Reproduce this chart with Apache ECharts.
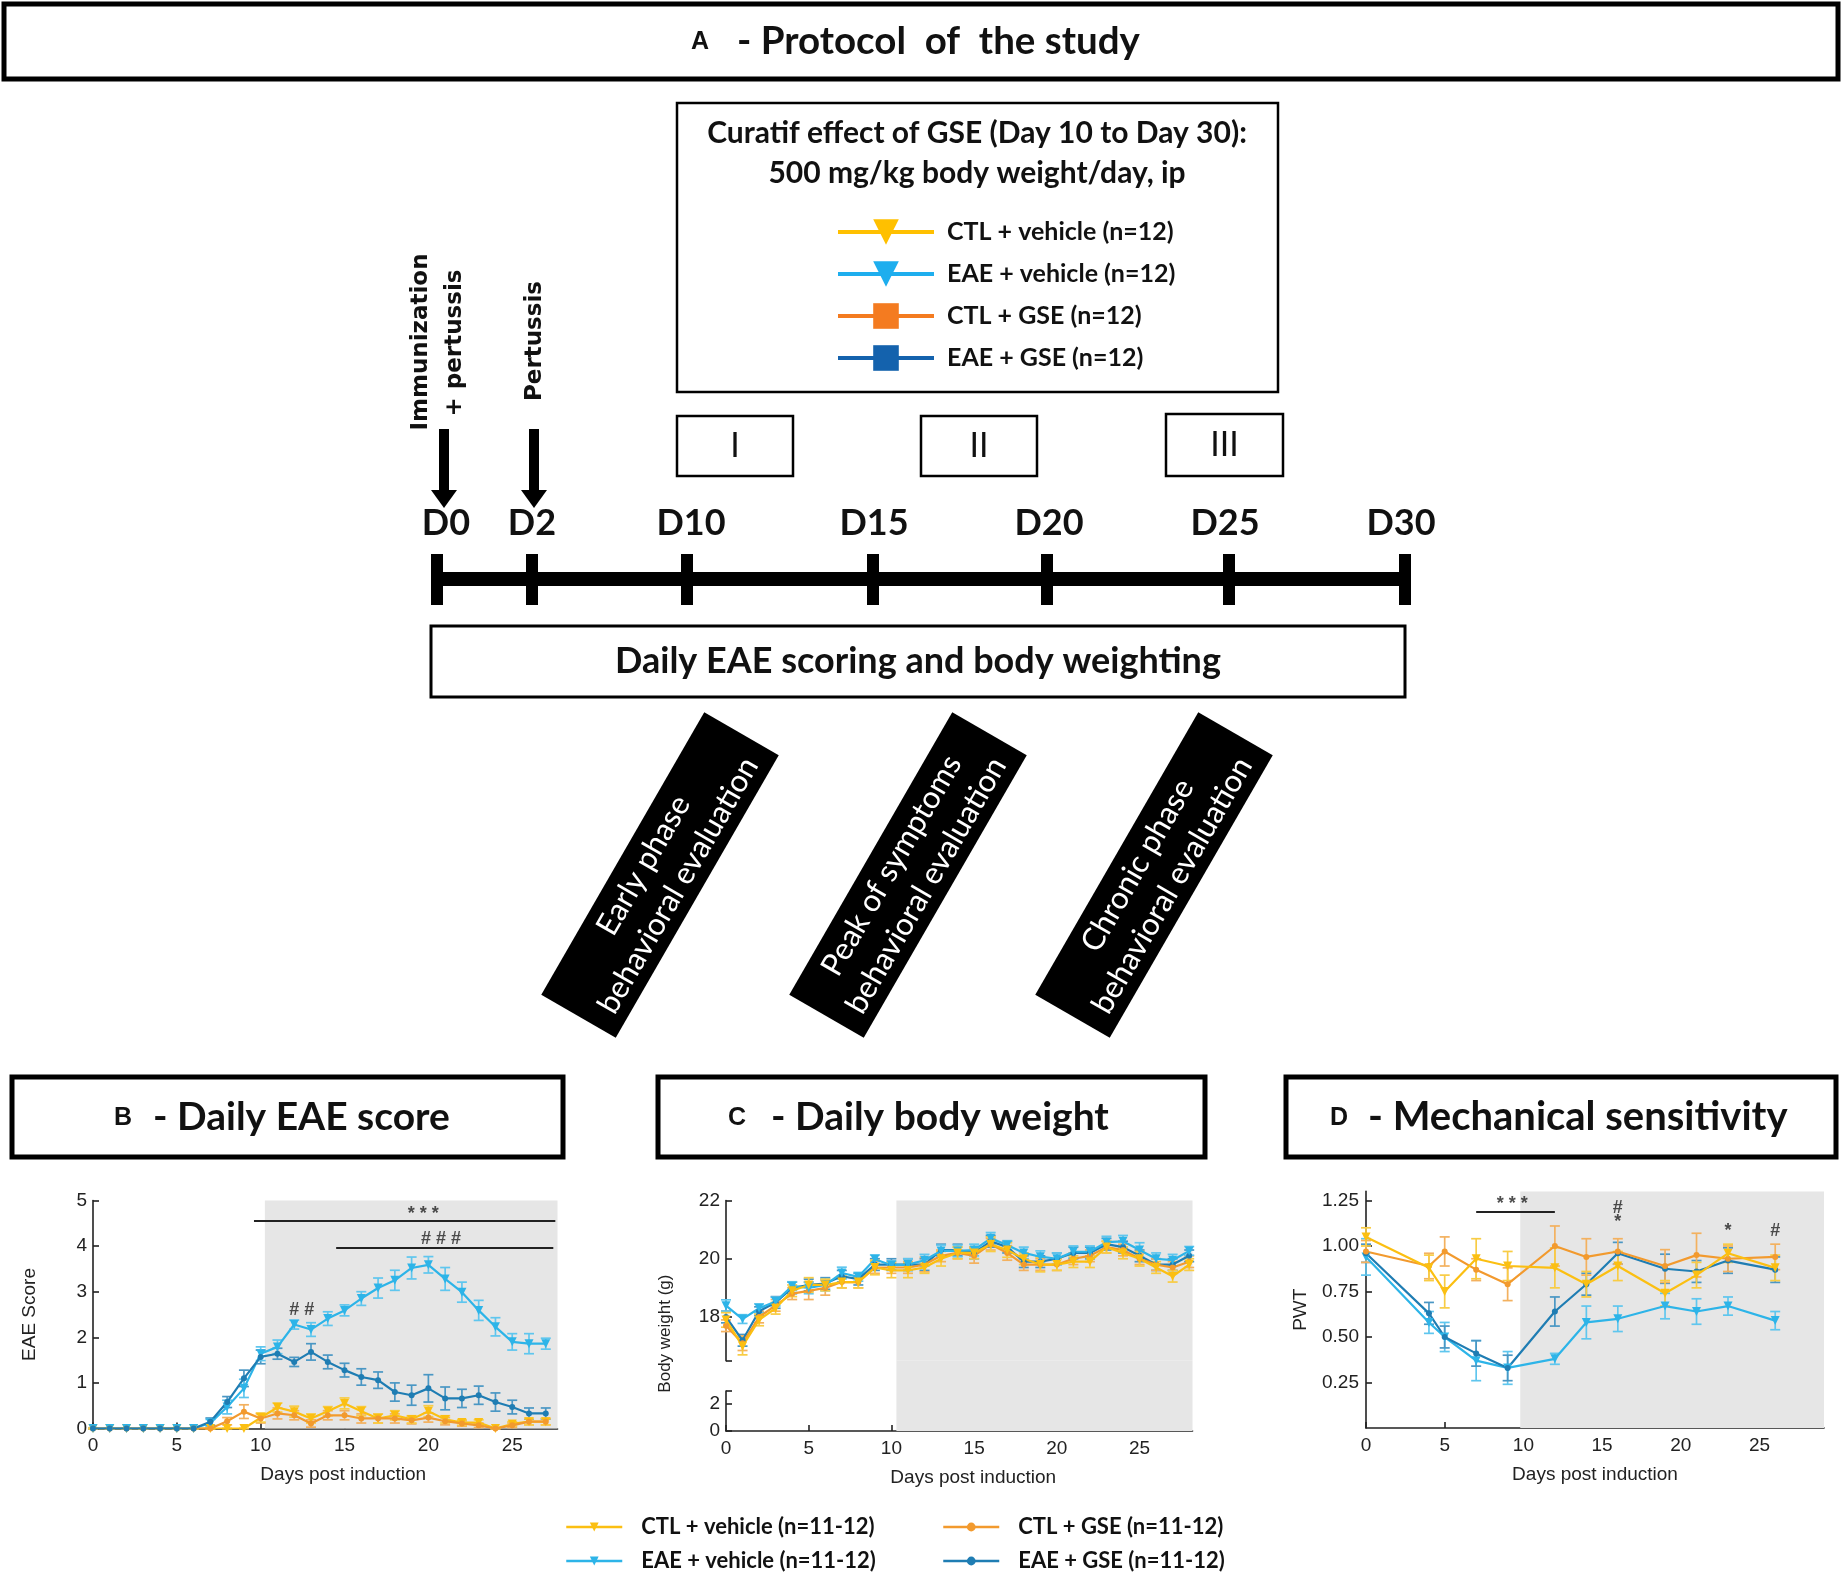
<!DOCTYPE html>
<html>
<head>
<meta charset="utf-8">
<title>GSE in EAE mice - protocol and outcomes</title>
<script src="https://cdn.jsdelivr.net/npm/echarts@6.0.0/dist/echarts.min.js"></script>
<style>
html, body { margin: 0; padding: 0; background: #fff; }
#main { width: 1842px; height: 1582px; }
</style>
</head>
<body>
<div id="main"></div>
<script>
// group names (bottom legend / charts) and protocol legend names
var groupNames = ['CTL + vehicle (n=11-12)', 'EAE + vehicle (n=11-12)', 'CTL + GSE (n=11-12)', 'EAE + GSE (n=11-12)'];
var protocolNames = ['CTL + vehicle (n=12)', 'EAE + vehicle (n=12)', 'CTL + GSE (n=12)', 'EAE + GSE (n=12)'];

// B - daily EAE score
var scoreDays = [0,1,2,3,4,5,6,7,8,9,10,11,12,13,14,15,16,17,18,19,20,21,22,23,24,25,26,27];
var scoreCtlVeh = [0,0,0,0,0,0,0,0,0,0,0.24,0.46,0.37,0.22,0.38,0.55,0.38,0.22,0.29,0.2,0.38,0.2,0.13,0.13,0,0.1,0.15,0.15];
var scoreCtlVehErr = [0,0,0,0,0,0,0,0,0,0,0.1,0.1,0.12,0.1,0.1,0.12,0.1,0.1,0.1,0.08,0.12,0.08,0.06,0.06,0,0.05,0.07,0.07];
var scoreEaeVeh = [0,0,0,0,0,0,0,0.12,0.47,0.88,1.64,1.79,2.28,2.17,2.41,2.59,2.85,3.08,3.25,3.52,3.59,3.28,2.99,2.59,2.23,1.9,1.86,1.86];
var scoreEaeVehErr = [0,0,0,0,0,0,0,0.08,0.15,0.2,0.15,0.15,0.1,0.15,0.15,0.12,0.15,0.22,0.22,0.24,0.18,0.25,0.22,0.22,0.2,0.18,0.22,0.12];
var scoreCtlGse = [0,0,0,0,0,0,0,0,0.16,0.37,0.22,0.33,0.29,0.11,0.29,0.29,0.22,0.22,0.22,0.18,0.24,0.16,0.11,0.07,0,0.07,0.15,0.15];
var scoreCtlGseErr = [0,0,0,0,0,0,0,0,0.08,0.15,0.1,0.12,0.1,0.08,0.1,0.1,0.1,0.1,0.1,0.08,0.1,0.08,0.06,0.05,0,0.05,0.07,0.07];
var scoreEaeGse = [0,0,0,0,0,0,0,0.15,0.58,1.1,1.57,1.64,1.46,1.68,1.46,1.28,1.13,1.06,0.8,0.73,0.88,0.66,0.66,0.73,0.58,0.47,0.33,0.33];
var scoreEaeGseErr = [0,0,0,0,0,0,0,0.08,0.12,0.18,0.15,0.12,0.1,0.18,0.15,0.15,0.18,0.18,0.2,0.22,0.3,0.25,0.2,0.2,0.2,0.15,0.12,0.12];
var scoreMarks = [[19.7, 4.7, '* * *'], [20.75, 4.15, '# # #'], [12.45, 2.6, '# #']];
var scoreSigLines = [[9.6, 27.57, 4.55], [14.5, 27.45, 3.96]];

// C - daily body weight (g)
var weightDays = [0,1,2,3,4,5,6,7,8,9,10,11,12,13,14,15,16,17,18,19,20,21,22,23,24,25,26,27,28];
var weightCtlVeh = [17.9,17.0,17.9,18.3,18.9,19.1,19.1,19.2,19.2,19.7,19.6,19.6,19.7,20.0,20.2,20.2,20.5,20.3,20.0,19.8,19.8,19.9,19.9,20.4,20.2,20.0,19.7,19.4,19.8];
var weightCtlVehErr = [0.25,0.3,0.2,0.2,0.2,0.25,0.2,0.2,0.2,0.25,0.25,0.25,0.2,0.25,0.2,0.2,0.25,0.25,0.2,0.25,0.2,0.2,0.2,0.2,0.2,0.25,0.2,0.2,0.2];
var weightEaeVeh = [18.39,17.93,18.3,18.53,19.06,19.0,19.1,19.51,19.38,19.98,19.78,19.8,19.95,20.27,20.27,20.3,20.7,20.47,20.2,20.07,20.0,20.24,20.24,20.57,20.6,20.3,20.0,19.95,20.27];
var weightEaeVehErr = [0.2,0.15,0.15,0.15,0.15,0.2,0.2,0.2,0.15,0.15,0.15,0.2,0.2,0.2,0.2,0.2,0.2,0.15,0.2,0.2,0.2,0.2,0.2,0.2,0.2,0.25,0.2,0.2,0.15];
var weightCtlGse = [17.7,17.1,18.0,18.4,18.8,18.9,19.0,19.2,19.2,19.7,19.7,19.7,19.8,20.1,20.2,20.1,20.5,20.2,19.8,19.8,19.8,20.0,20.1,20.4,20.3,20.0,19.8,19.7,19.9];
var weightCtlGseErr = [0.2,0.25,0.2,0.2,0.2,0.3,0.25,0.2,0.2,0.2,0.2,0.2,0.25,0.2,0.2,0.25,0.2,0.25,0.2,0.2,0.2,0.2,0.2,0.2,0.2,0.2,0.2,0.2,0.2];
var weightEaeGse = [18.0,17.2,18.2,18.5,19.0,19.1,19.15,19.4,19.3,19.8,19.8,19.8,19.8,20.3,20.3,20.2,20.6,20.4,19.9,19.9,20.0,20.2,20.2,20.5,20.4,20.1,19.8,19.8,20.1];
var weightEaeGseErr = [0.2,0.2,0.15,0.2,0.2,0.2,0.2,0.2,0.2,0.2,0.2,0.2,0.2,0.2,0.2,0.2,0.2,0.2,0.2,0.2,0.2,0.2,0.2,0.2,0.2,0.2,0.2,0.2,0.2];

// D - mechanical sensitivity (PWT)
var pwtDays = [0,4,5,7,9,12,14,16,19,21,23,26];
var pwtCtlVeh = [1.05,0.88,0.75,0.93,0.89,0.88,0.79,0.89,0.74,0.84,0.96,0.88];
var pwtCtlVehErr = [0.05,0.07,0.09,0.11,0.08,0.11,0.07,0.08,0.07,0.07,0.05,0.07];
var pwtEaeVeh = [0.94,0.58,0.5,0.37,0.33,0.38,0.58,0.6,0.67,0.64,0.67,0.59];
var pwtEaeVehErr = [0.1,0.06,0.08,0.11,0.09,0.03,0.09,0.07,0.07,0.07,0.05,0.05];
var pwtCtlGse = [0.97,0.89,0.97,0.87,0.79,1.0,0.94,0.97,0.89,0.95,0.93,0.94];
var pwtCtlGseErr = [0.06,0.07,0.08,0.06,0.09,0.11,0.1,0.07,0.09,0.12,0.07,0.07];
var pwtEaeGse = [0.96,0.63,0.5,0.41,0.33,0.64,0.79,0.96,0.875,0.86,0.92,0.87];
var pwtEaeGseErr = [0.05,0.06,0.06,0.07,0.07,0.08,0.06,0.06,0.08,0.06,0.07,0.07];
var pwtMarks = [[9.3, 1.23, '* * *'], [16, 1.21, '#'], [16, 1.13, '*'], [23, 1.08, '*'], [26, 1.08, '#']];
var pwtSigLines = [[7, 12, 1.19]];

// first day of the GSE treatment period (grey area)
var treatStart = [10.25, 10.3, 9.8];

// protocol timeline
var timelineLabels = ['D0', 'D2', 'D10', 'D15', 'D20', 'D25', 'D30'];
var phaseLabels = ['I', 'II', 'III'];
var phaseTexts = ['Early phase\nbehavioral evaluation', 'Peak of symptoms\nbehavioral evaluation', 'Chronic phase\nbehavioral evaluation'];

// ---- layout / style ----
var colors = ['#fbbf12', '#2db4e8', '#f29a2e', '#1f7db3'];
var errColors = ['#f8cc45', '#5fc6ee', '#f3b15f', '#4a97c4'];
var protoColors = ['#ffc000', '#1eaeee', '#f47b20', '#1462ad'];
var markSymbols = ['triangle', 'triangle', 'circle', 'circle'];
var markRotate = [180, 180, 0, 0];
var tickX = [437, 532, 687, 873, 1047, 1229, 1405];
var labelX = [446, 532, 691, 874, 1049, 1225, 1401];
var phaseBoxes = [[677, 416, 116, 60], [921, 416, 116, 60], [1166, 414, 117, 62]];
var phaseCenters = [[660, 875], [908, 875], [1154, 875]];
var panelBoxes = [[12, 1077, 551, 80, 'B', 123, 153, '- Daily EAE score', 39],
                  [658, 1077, 547, 80, 'C', 737, 771, '- Daily body weight', 39],
                  [1286, 1077, 550, 80, 'D', 1339, 1368, '- Mechanical sensitivity', 40]];

var calibri = 'Lato, "Open Sans", sans-serif';
var arial = '"Liberation Sans", Arial, sans-serif';
var ink = '#111';

function pairs(xs, ys) {
    return xs.map(function (x, i) { return [x, ys[i]]; });
}
function ranges(xs, ys, es) {
    return xs.map(function (x, i) { return [x, ys[i] - es[i], ys[i] + es[i]]; });
}

function lineSeries(k, xs, ys, axis) {
    return {
        name: groupNames[k], type: 'line', xAxisIndex: axis, yAxisIndex: axis,
        data: pairs(xs, ys),
        symbol: markSymbols[k], symbolRotate: markRotate[k],
        symbolSize: markSymbols[k] === 'triangle' ? 9 : 6,
        lineStyle: {color: colors[k], width: 2.2},
        itemStyle: {color: colors[k]},
        z: 4, silent: true
    };
}

function errSeries(k, xs, ys, es, axis) {
    var col = errColors[k];
    return {
        type: 'custom', xAxisIndex: axis, yAxisIndex: axis,
        data: ranges(xs, ys, es),
        encode: {x: 0, y: [1, 2]},
        z: 3, silent: true,
        renderItem: function (params, api) {
            var x = api.value(0);
            var lo = api.coord([x, api.value(1)]);
            var hi = api.coord([x, api.value(2)]);
            var w = 5;
            var st = {stroke: col, lineWidth: 1.7};
            return {
                type: 'group', children: [
                    {type: 'line', shape: {x1: lo[0], y1: lo[1], x2: hi[0], y2: hi[1]}, style: st},
                    {type: 'line', shape: {x1: lo[0] - w, y1: lo[1], x2: lo[0] + w, y2: lo[1]}, style: st},
                    {type: 'line', shape: {x1: hi[0] - w, y1: hi[1], x2: hi[0] + w, y2: hi[1]}, style: st}
                ]
            };
        }
    };
}

function greySeries(axis, x0, x1, y0, y1) {
    return {
        type: 'scatter', xAxisIndex: axis, yAxisIndex: axis, data: [], z: 1, silent: true,
        markArea: {
            silent: true,
            itemStyle: {color: '#e6e6e6'},
            data: [[{xAxis: x0, yAxis: y0}, {xAxis: x1, yAxis: y1}]]
        }
    };
}

function noteSeries(axis, marks, lines) {
    return {
        type: 'scatter', xAxisIndex: axis, yAxisIndex: axis, symbolSize: 0, z: 6, silent: true,
        data: marks.map(function (m) {
            return {value: [m[0], m[1]], label: {formatter: m[2]}};
        }),
        label: {show: true, position: 'inside', color: '#222', fontFamily: arial, fontWeight: 'bold', fontSize: 18},
        markLine: {
            silent: true, symbol: ['none', 'none'],
            label: {show: false},
            lineStyle: {color: '#222', width: 1.8, type: 'solid'},
            data: lines.map(function (l) {
                return [{coord: [l[0], l[2]]}, {coord: [l[1], l[2]]}];
            })
        }
    };
}

var axisLabelStyle = {fontFamily: arial, fontSize: 19, color: '#222'};
var axisNameStyle = {fontFamily: arial, fontSize: 19, color: '#222'};
var axisLineStyle = {show: true, onZero: false, lineStyle: {color: '#222', width: 1.6}};

function xAxisFor(grid, max, opts) {
    var ax = {
        type: 'value', gridIndex: grid, min: 0, max: max,
        axisLine: axisLineStyle,
        axisTick: {inside: true, length: 6, lineStyle: {color: '#222', width: 1.6}, customValues: [0, 5, 10, 15, 20, 25]},
        axisLabel: Object.assign({margin: 8, customValues: [0, 5, 10, 15, 20, 25]}, axisLabelStyle),
        splitLine: {show: false},
        name: 'Days post induction', nameLocation: 'middle', nameGap: 37,
        nameTextStyle: axisNameStyle
    };
    return Object.assign(ax, opts || {});
}

function yAxisFor(grid, min, max, ticks, labels, opts) {
    var ax = {
        type: 'value', gridIndex: grid, min: min, max: max,
        axisLine: axisLineStyle,
        axisTick: {inside: true, length: 6, lineStyle: {color: '#222', width: 1.6}, customValues: ticks},
        axisLabel: Object.assign({margin: 6, customValues: labels}, axisLabelStyle),
        splitLine: {show: false},
        nameLocation: 'middle', nameTextStyle: axisNameStyle
    };
    return Object.assign(ax, opts || {});
}

// ---- protocol diagram ----
var elements = [];
function rectEl(x, y, w, h, lw) {
    return {type: 'rect', shape: {x: x, y: y, width: w, height: h}, style: {fill: 'none', stroke: '#000', lineWidth: lw}};
}
function textEl(txt, x, y, size, weight, family, align, extra) {
    return {type: 'text', x: x, y: y, rotation: (extra && extra.rotation) || 0,
        style: {text: txt, fill: (extra && extra.fill) || ink, fontSize: size, fontWeight: weight, fontFamily: family,
            align: align || 'center', verticalAlign: 'middle', lineHeight: (extra && extra.lineHeight) || undefined}};
}

elements.push(rectEl(4, 4, 1834, 75, 5));
elements.push(textEl('A', 700, 42, 25, 'bold', arial));
elements.push(textEl('- Protocol  of  the study', 737, 42, 38.5, 'bold', calibri, 'left'));

elements.push(rectEl(677, 103, 601, 289, 2.5));
elements.push(textEl('Curatif effect of GSE (Day 10 to Day 30):', 977, 133, 30, 'bold', calibri));
elements.push(textEl('500 mg/kg body weight/day, ip', 977, 173, 30, 'bold', calibri));

phaseBoxes.forEach(function (b, i) {
    elements.push(rectEl(b[0], b[1], b[2], b[3], 2.5));
    elements.push(textEl(phaseLabels[i], b[0] + b[2] / 2, b[1] + b[3] / 2, 34, 'normal', calibri));
});

// timeline bar, ticks and day labels
elements.push({type: 'rect', shape: {x: tickX[0], y: 572, width: tickX[6] - tickX[0], height: 14}, style: {fill: '#000'}});
tickX.forEach(function (x, i) {
    elements.push({type: 'rect', shape: {x: x - 6, y: 554, width: 12, height: 51}, style: {fill: '#000'}});
    elements.push(textEl(timelineLabels[i], labelX[i], 523, 36, 'bold', calibri));
});

// arrows for immunization / pertussis
[444, 534].forEach(function (x) {
    elements.push({type: 'rect', shape: {x: x - 5, y: 429, width: 10, height: 64}, style: {fill: '#000'}});
    elements.push({type: 'polygon', shape: {points: [[x - 13, 490], [x + 13, 490], [x, 508]]}, style: {fill: '#000'}});
});
elements.push(textEl('Immunization', 421, 342, 23, 'bold', '"DejaVu Sans", Verdana, sans-serif', 'center', {rotation: Math.PI / 2}));
elements.push(textEl('+ pertussis', 455, 343, 23, 'bold', '"DejaVu Sans", Verdana, sans-serif', 'center', {rotation: Math.PI / 2}));
elements.push(textEl('Pertussis', 535, 341, 23, 'bold', '"DejaVu Sans", Verdana, sans-serif', 'center', {rotation: Math.PI / 2}));

elements.push(rectEl(431, 626, 974, 71, 3));
elements.push(textEl('Daily EAE scoring and body weighting', 918, 661, 36, 'bold', calibri));

// rotated black boxes for behavioural evaluations
phaseCenters.forEach(function (c, i) {
    elements.push({
        type: 'group', x: c[0], y: c[1], rotation: Math.PI / 3,
        children: [
            {type: 'rect', shape: {x: -163, y: -43, width: 326, height: 86}, style: {fill: '#000'}},
            {type: 'text', x: 0, y: 1, style: {text: phaseTexts[i], fill: '#fff', fontSize: 31, fontFamily: calibri,
                fontWeight: 'normal', align: 'center', verticalAlign: 'middle', lineHeight: 40}}
        ]
    });
});

// panel title boxes
panelBoxes.forEach(function (p) {
    elements.push(rectEl(p[0], p[1], p[2], p[3], 5));
    elements.push(textEl(p[4], p[5], 1118, 25, 'bold', arial));
    elements.push(textEl(p[7], p[6], 1117, p[8], 'bold', calibri, 'left'));
});

// ---- charts ----
var series = [];

// B
series.push(greySeries(0, treatStart[0], 27.7, 0, 5));
series.push(lineSeries(0, scoreDays, scoreCtlVeh, 0));
series.push(lineSeries(1, scoreDays, scoreEaeVeh, 0));
series.push(lineSeries(2, scoreDays, scoreCtlGse, 0));
series.push(lineSeries(3, scoreDays, scoreEaeGse, 0));
series.push(errSeries(3, scoreDays, scoreEaeGse, scoreEaeGseErr, 0));
series.push(errSeries(1, scoreDays, scoreEaeVeh, scoreEaeVehErr, 0));
series.push(errSeries(2, scoreDays, scoreCtlGse, scoreCtlGseErr, 0));
series.push(errSeries(0, scoreDays, scoreCtlVeh, scoreCtlVehErr, 0));
series.push(noteSeries(0, scoreMarks, scoreSigLines));

// C (broken axis: upper part 1, gap 2, lower part 3)
series.push(greySeries(1, treatStart[1], 28.2, 16.5, 22));
series.push(greySeries(2, treatStart[1], 28.2, 0, 1));
series.push(greySeries(3, treatStart[1], 28.2, 0, 2.9));
series.push(lineSeries(3, weightDays, weightEaeGse, 1));
series.push(lineSeries(2, weightDays, weightCtlGse, 1));
series.push(lineSeries(1, weightDays, weightEaeVeh, 1));
series.push(lineSeries(0, weightDays, weightCtlVeh, 1));
series.push(errSeries(3, weightDays, weightEaeGse, weightEaeGseErr, 1));
series.push(errSeries(2, weightDays, weightCtlGse, weightCtlGseErr, 1));
series.push(errSeries(1, weightDays, weightEaeVeh, weightEaeVehErr, 1));
series.push(errSeries(0, weightDays, weightCtlVeh, weightCtlVehErr, 1));

// D
series.push(greySeries(4, treatStart[2], 29.1, 0, 1.3));
series.push(lineSeries(1, pwtDays, pwtEaeVeh, 4));
series.push(lineSeries(3, pwtDays, pwtEaeGse, 4));
series.push(lineSeries(2, pwtDays, pwtCtlGse, 4));
series.push(lineSeries(0, pwtDays, pwtCtlVeh, 4));
series.push(errSeries(1, pwtDays, pwtEaeVeh, pwtEaeVehErr, 4));
series.push(errSeries(3, pwtDays, pwtEaeGse, pwtEaeGseErr, 4));
series.push(errSeries(2, pwtDays, pwtCtlGse, pwtCtlGseErr, 4));
series.push(errSeries(0, pwtDays, pwtCtlVeh, pwtCtlVehErr, 4));
series.push(noteSeries(4, pwtMarks, pwtSigLines));

// protocol legend entries (no data)
protocolNames.forEach(function (n, k) {
    series.push({
        name: n, type: 'line', xAxisIndex: 0, yAxisIndex: 0, data: [],
        symbol: k < 2 ? 'triangle' : 'rect', symbolRotate: k < 2 ? 180 : 0,
        lineStyle: {color: protoColors[k], width: 3.5},
        itemStyle: {color: protoColors[k]}
    });
});

var legendText = {fontFamily: calibri, fontWeight: 'bold', color: ink};

var option = {
    animation: false,
    backgroundColor: '#fff',
    grid: [
        {left: 93, top: 1200.5, width: 464.5, height: 228},
        {left: 726, top: 1200.5, width: 466.5, height: 160.2},
        {left: 726, top: 1360.7, width: 466.5, height: 30.3},
        {left: 726, top: 1391, width: 466.5, height: 40},
        {left: 1366, top: 1191.4, width: 458, height: 236.6}
    ],
    xAxis: [
        xAxisFor(0, 27.7, {nameTextStyle: Object.assign({padding: [0, 0, 0, 36]}, axisNameStyle)}),
        {type: 'value', gridIndex: 1, min: 0, max: 28.2, show: false},
        {type: 'value', gridIndex: 2, min: 0, max: 28.2, show: false},
        xAxisFor(3, 28.2, {nameTextStyle: Object.assign({padding: [0, 0, 0, 28]}, axisNameStyle)}),
        xAxisFor(4, 29.1)
    ],
    yAxis: [
        yAxisFor(0, 0, 5, [0, 1, 2, 3, 4, 5], [0, 1, 2, 3, 4, 5], {name: 'EAE Score', nameGap: 54}),
        yAxisFor(1, 16.5, 22, [16.5, 18, 20, 22], [18, 20, 22], {
            name: 'Body weight (g)', nameGap: 52,
            nameTextStyle: Object.assign({}, axisNameStyle, {fontSize: 17, padding: [0, 106, 0, 0]})
        }),
        {type: 'value', gridIndex: 2, min: 0, max: 1, show: false},
        yAxisFor(3, 0, 2.9, [0, 2, 2.9], [0, 2]),
        yAxisFor(4, 0, 1.3, [0.25, 0.5, 0.75, 1, 1.25], [0.25, 0.5, 0.75, 1, 1.25], {
            name: 'PWT', nameGap: 56,
            axisLabel: Object.assign({margin: 7, customValues: [0.25, 0.5, 0.75, 1, 1.25],
                formatter: function (v) { return v.toFixed(2); }}, axisLabelStyle)
        })
    ],
    legend: [
        {
            data: protocolNames, left: 831, top: 212, orient: 'vertical',
            itemWidth: 96, itemHeight: 32, itemGap: 12,
            lineStyle: {width: 4},
            textStyle: Object.assign({fontSize: 25, lineHeight: 30, padding: [0, 0, 0, 8]}, legendText),
            selectedMode: false
        },
        {
            data: [groupNames[0], groupNames[1]], left: 560, top: 1510, orient: 'vertical',
            itemWidth: 56, itemHeight: 11, itemGap: 10,
            lineStyle: {width: 2.5},
            textStyle: Object.assign({fontSize: 22, lineHeight: 24, padding: [0, 0, 0, 14]}, legendText),
            selectedMode: false
        },
        {
            data: [groupNames[2], groupNames[3]], left: 937, top: 1510, orient: 'vertical',
            itemWidth: 56, itemHeight: 11, itemGap: 10,
            lineStyle: {width: 2.5},
            textStyle: Object.assign({fontSize: 22, lineHeight: 24, padding: [0, 0, 0, 14]}, legendText),
            selectedMode: false
        }
    ],
    graphic: {elements: elements},
    series: series
};

var myChart = echarts.init(document.getElementById('main'));
myChart.setOption(option);
</script>
</body>
</html>
